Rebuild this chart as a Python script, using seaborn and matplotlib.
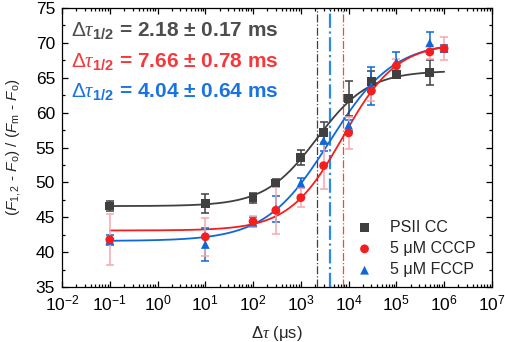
import numpy as np
import pandas as pd
import matplotlib
matplotlib.use("Agg")
import matplotlib.pyplot as plt
import matplotlib.ticker as mticker
import seaborn as sns

# delay times (us)
x_cc = [0.1, 10, 100, 300, 1000, 3000, 1e4, 3e4, 1e5, 5e5]
y_cc = [46.6, 47.0, 47.8, 49.9, 53.6, 57.2, 62.0, 64.5, 65.5, 65.8]
e_cc = [0.7, 1.35, 0.7, 0.6, 1.1, 1.5, 2.5, 1.5, 0.5, 1.8]

x_cccp = [0.1, 10, 100, 300, 1000, 3000, 1e4, 3e4, 1e5, 5e5, 1e6]
y_cccp = [41.8, 42.2, 44.4, 46.0, 47.8, 52.4, 57.1, 63.1, 66.7, 68.7, 69.2]
e_cccp = [3.7, 2.7, 0.8, 3.4, 1.4, 3.4, 2.3, 1.5, 1.0, 1.0, 1.6]

x_fccp = [0.1, 10, 100, 300, 1000, 3000, 1e4, 3e4, 1e5, 5e5, 1e6]
y_fccp = [41.7, 41.1, 44.3, 46.2, 49.9, 56.0, 58.2, 63.8, 67.3, 70.0, 69.2]
e_fccp = [0.7, 2.3, 0.7, 1.9, 0.7, 1.5, 0.8, 2.7, 1.4, 1.5, 0.5]

# Boltzmann fit params (bottom, top, x0 [us], power)
fit_cc = (46.6, 66.0, 2180, 0.80)
fit_cccp = (43.1, 70.0, 7660, 0.77)
fit_fccp = (41.6, 70.2, 4040, 0.65)

labels = ["PSII CC", "5 \u03bcM CCCP", "5 \u03bcM FCCP"]
notes = ["2.18 \u00b1 0.17 ms", "7.66 \u00b1 0.78 ms", "4.04 \u00b1 0.64 ms"]

c_gray, c_red, c_blue = "#404040", "#f51e1e", "#0f68d8"
c_gray_t, c_red_t, c_blue_t = "#4d4d4d", "#f5383c", "#1a74e0"

sns.set_theme(style="ticks")
plt.rcParams["font.family"] = ["Liberation Sans", "DejaVu Sans"]
plt.rcParams["mathtext.fontset"] = "custom"
plt.rcParams["mathtext.rm"] = "Liberation Sans"
plt.rcParams["mathtext.it"] = "Liberation Serif:italic"
plt.rcParams["mathtext.sf"] = "Liberation Sans:italic"
plt.rcParams["mathtext.bf"] = "Liberation Sans:bold"

fig, ax = plt.subplots(figsize=(5.05, 3.42), dpi=100)
fig.subplots_adjust(left=0.1228, right=0.974, bottom=0.1608, top=0.9766)

xf = np.logspace(-1, 6, 400)
def boltz(p):
    a1, a2, x0, pw = p
    return a2 + (a1 - a2) / (1 + (xf / x0) ** pw)

series = [
    (x_cc, y_cc, e_cc, fit_cc, c_gray, c_gray, "s", labels[0]),
    (x_fccp, y_fccp, e_fccp, fit_fccp, c_blue, c_blue, "^", labels[2]),
    (x_cccp, y_cccp, e_cccp, fit_cccp, c_red, "#f6a8ae", "o", labels[1]),
]
for xs, ys, es, fp, col, ecol, mk, lab in series:
    sns.lineplot(x=xf, y=boltz(fp), color=col, lw=1.3, ax=ax, zorder=2)
    ax.errorbar(xs, ys, yerr=es, fmt="none", ecolor=ecol, elinewidth=1.1,
                capsize=2.6, capthick=1.1, zorder=3)
    sns.scatterplot(x=xs, y=ys, marker=mk, color=col, s=40, edgecolor="none",
                    ax=ax, zorder=4, label=lab)

ax.axvline(fit_cc[2], color=c_gray, lw=0.9, ls="-.", zorder=1)
ax.axvline(fit_fccp[2], color="#2a8ae8", lw=1.6, ls="-.", zorder=1)
ax.axvline(fit_cccp[2], color="#f04848", lw=0.9, ls="-.", zorder=1)

ax.set_xscale("log")
ax.set_xlim(1e-2, 1e7)
ax.set_ylim(35, 75)
ax.xaxis.set_major_locator(mticker.LogLocator(base=10, numticks=20))
ax.xaxis.set_minor_locator(mticker.LogLocator(base=10, subs=np.arange(2, 10), numticks=20))
ax.xaxis.set_minor_formatter(mticker.NullFormatter())
ax.yaxis.set_major_locator(mticker.MultipleLocator(5))
ax.yaxis.set_minor_locator(mticker.MultipleLocator(2.5))
ax.tick_params(which="both", direction="in", top=True, right=True,
               labelsize=12.5, colors="black", width=0.9)
ax.tick_params(which="major", length=4.5, pad=5)
ax.tick_params(which="minor", length=2.5)
for sp in ax.spines.values():
    sp.set_visible(True)
    sp.set_color("black")
    sp.set_linewidth(0.9)

ax.set_xlabel("$\\Delta\\tau$ (\u03bcs)", fontsize=12, labelpad=7)
ax.set_ylabel(r"($\mathsf{F}_{1,2}$ - $\mathsf{F}_{\mathrm{o}}$) / ($\mathsf{F}_{\mathrm{m}}$ - $\mathsf{F}_{\mathrm{o}}$)",
              fontsize=11, labelpad=9)

for txt, col, yy in zip(notes, [c_gray_t, c_red_t, c_blue_t], [0.92, 0.808, 0.70]):
    ax.text(0.021, yy, r"$\Delta\tau_{\mathbf{1/2}}$ = " + txt, transform=ax.transAxes,
            color=col, fontsize=15, fontweight="bold", va="center", ha="left")

h, l = ax.get_legend_handles_labels()
order = [l.index(lab) for lab in labels]
ax.legend([h[i] for i in order], [l[i] for i in order], loc="lower right",
          frameon=False, fontsize=11.5, handletextpad=0.6, labelspacing=0.4,
          borderaxespad=0.2, bbox_to_anchor=(0.985, 0.0))

fig.savefig("out.png", dpi=100)
